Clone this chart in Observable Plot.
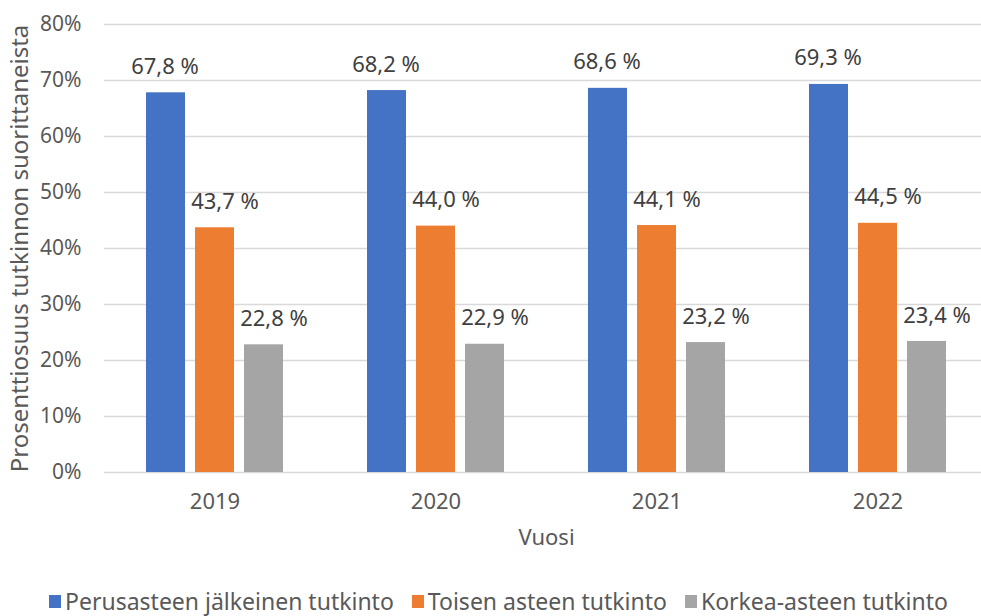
<!DOCTYPE html>
<html>
<head>
<meta charset="utf-8">
<script src="https://cdn.jsdelivr.net/npm/d3@7"></script>
<script src="https://cdn.jsdelivr.net/npm/@observablehq/plot@0.6"></script>
<style>
  html, body { margin: 0; padding: 0; background: #fff; overflow: hidden; }
  body { width: 981px; height: 616px; font-family: "Noto Sans", sans-serif; }
  #chart svg { display: block; overflow: hidden; }
  #legend { display: flex; justify-content: center; align-items: center; height: 30px; line-height: 28px; padding-left: 16px;
            font-size: 23px; color: #595959; white-space: nowrap; }
  #legend .item { display: flex; align-items: center; margin: 0 9px; }
  #legend .sw { width: 12px; height: 13px; margin-right: 4px; }
</style>
</head>
<body>
<div id="chart"></div>
<div id="legend"></div>
<script>
const years = ["2019", "2020", "2021", "2022"];
const series = ["Perusasteen jälkeinen tutkinto", "Toisen asteen tutkinto", "Korkea-asteen tutkinto"];
const perusasteenJalkeinen = [67.8, 68.2, 68.6, 69.3];
const toisenAsteen = [43.7, 44.0, 44.1, 44.5];
const korkeaAsteen = [22.8, 22.9, 23.2, 23.4];
const yTicks = [0, 10, 20, 30, 40, 50, 60, 70, 80];
const colors = ["#4472C4", "#ED7D31", "#A5A5A5"];
const labelDx = [-1, 10, 10];

const values = [perusasteenJalkeinen, toisenAsteen, korkeaAsteen];
const data = [];
series.forEach((s, i) => years.forEach((y, j) => data.push({year: y, series: s, value: values[i][j]})));
const fmt = v => v.toFixed(1).replace(".", ",") + " %";

const chart = Plot.plot({
  width: 981,
  height: 586,
  marginLeft: 103,
  marginRight: 0,
  marginTop: 24,
  marginBottom: 114,
  style: {fontFamily: "Noto Sans", fontSize: "21px", color: "#595959", background: "#fff"},
  fx: {domain: years, range: [103, 989], padding: 0},
  x: {domain: series, paddingInner: 0.204, paddingOuter: 0.857, axis: null},
  y: {domain: [0, 80]},
  color: {domain: series, range: colors},
  marks: [
    Plot.gridY(yTicks, {stroke: "#d9d9d9", strokeOpacity: 1, strokeWidth: 1.3}),
    Plot.axisY(yTicks, {tickSize: 0, tickPadding: 23, tickFormat: d => d + "%", fontSize: 21, fill: "#595959",
      label: "Prosenttiosuus tutkinnon suorittaneista", labelAnchor: "center", labelOffset: 94, labelArrow: "none"}),
    Plot.axisFx({anchor: "bottom", tickSize: 0, tickPadding: 21, fontSize: 22, fill: "#595959",
      label: "Vuosi", labelAnchor: "center", labelOffset: 72, labelArrow: "none"}),
    Plot.barY(data, {fx: "year", x: "series", y: "value", fill: "series"}),
    ...series.map((s, i) => Plot.text(data.filter(d => d.series === s), {
      fx: "year", x: "series", y: "value", text: d => fmt(d.value),
      dy: -26, dx: labelDx[i], lineAnchor: "middle", fontSize: 22, fill: "#404040"
    }))
  ]
});
document.getElementById("chart").appendChild(chart);

// bigger axis title fonts
chart.querySelectorAll('[aria-label="y-axis label"] text, [aria-label="y-axis label"]').forEach(n => n.setAttribute("font-size", 24));
chart.querySelectorAll('[aria-label="fx-axis label"] text, [aria-label="fx-axis label"]').forEach(n => n.setAttribute("font-size", 22));

const legend = document.getElementById("legend");
series.forEach((s, i) => {
  const item = document.createElement("div");
  item.className = "item";
  const sw = document.createElement("span");
  sw.className = "sw";
  sw.style.background = colors[i];
  const t = document.createElement("span");
  t.textContent = s;
  item.appendChild(sw);
  item.appendChild(t);
  legend.appendChild(item);
});
</script>
</body>
</html>
